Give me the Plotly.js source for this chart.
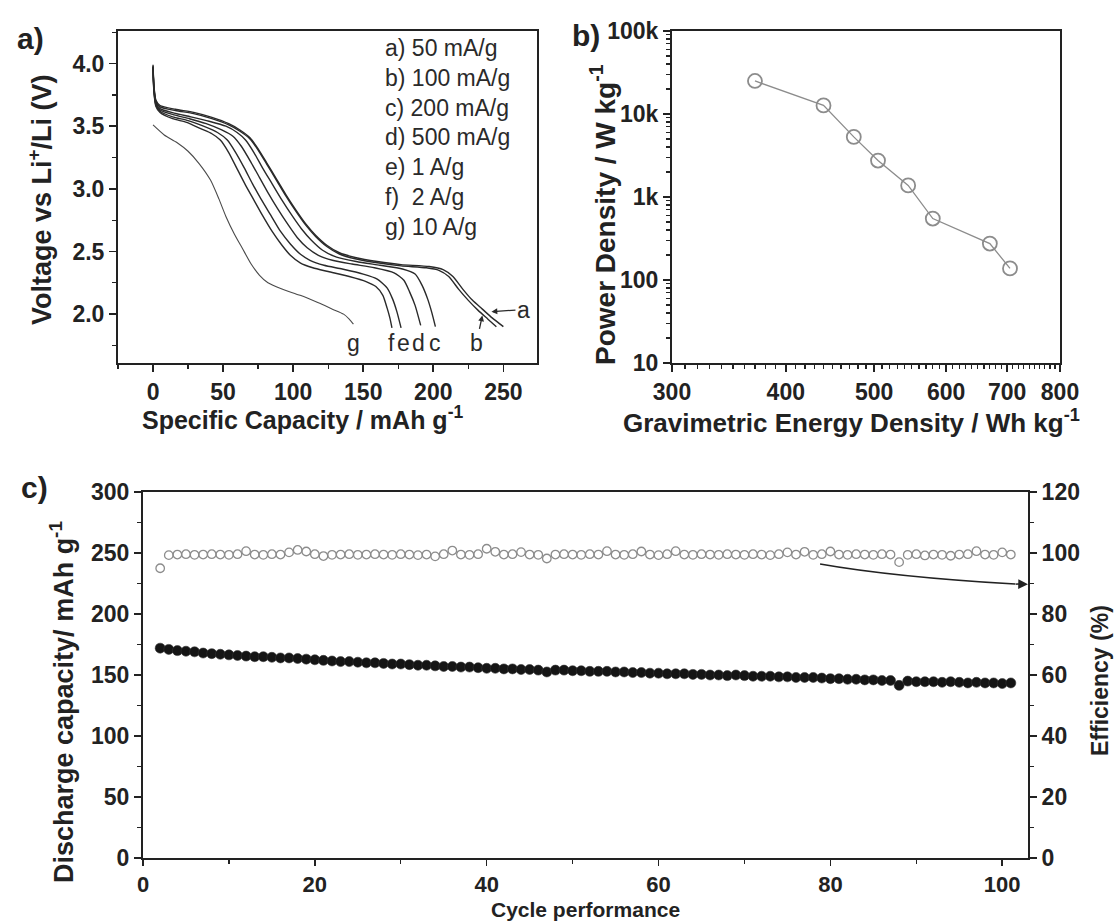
<!DOCTYPE html>
<html>
<head>
<meta charset="utf-8">
<script src="https://cdn.plot.ly/plotly-3.0.1.min.js"></script>
<style>html,body{margin:0;padding:0;background:#fff;}#chart{width:1118px;height:922px;}</style>
</head>
<body>
<div id="chart"></div>
<script>
// ---------- Panel a: discharge curves (capacity mAh/g, voltage V) ----------
const rateLabels = ['a) 50 mA/g','b) 100 mA/g','c) 200 mA/g','d) 500 mA/g','e) 1 A/g','f)\u00a0 2 A/g','g) 10 A/g'];

const capA = [0,0.6,2,5,16,29,42,54,62,69,75,81,88,95,102,109,116,124,133,145,160,177,197,207,214,221,228,235,242,250];
const voltA = [3.99,3.83,3.71,3.665,3.635,3.61,3.57,3.52,3.47,3.41,3.32,3.21,3.08,2.95,2.83,2.72,2.63,2.55,2.49,2.45,2.42,2.395,2.38,2.355,2.30,2.20,2.11,2.04,1.97,1.90];

const capB = [0,0.6,2,5,16,29,42,54,62,69,75,81,88,95,102,109,116,124,133,145,160,177,195,204,211,218,225,232,239,245];
const voltB = [3.98,3.82,3.70,3.655,3.625,3.60,3.56,3.51,3.46,3.40,3.31,3.20,3.07,2.94,2.82,2.71,2.62,2.54,2.48,2.44,2.41,2.385,2.37,2.35,2.30,2.20,2.11,2.03,1.96,1.90];

const capC = [0,0.6,2,5,15,27,40,52,60,66,72,78,85,92,99,106,113,121,131,145,162,178,187,192,196,199,201.5];
const voltC = [3.97,3.81,3.69,3.64,3.605,3.575,3.54,3.50,3.45,3.39,3.29,3.17,3.04,2.91,2.79,2.68,2.59,2.51,2.455,2.42,2.39,2.36,2.32,2.23,2.12,2.01,1.90];

const capD = [0,0.6,2,5,15,26,38,49,57,63,70,76,82,89,96,103,110,118,128,142,158,172,179,183,187,191];
const voltD = [3.97,3.80,3.68,3.63,3.59,3.56,3.52,3.47,3.42,3.34,3.21,3.09,2.97,2.84,2.72,2.61,2.53,2.47,2.43,2.40,2.37,2.33,2.27,2.18,2.07,1.91];

const capE = [0,0.6,2,5,14,25,36,46,53,59,65,71,77,84,91,98,105,112,122,135,150,160,167,171,174,177];
const voltE = [3.97,3.79,3.67,3.62,3.575,3.545,3.50,3.45,3.39,3.29,3.17,3.04,2.92,2.79,2.66,2.56,2.48,2.43,2.39,2.36,2.32,2.28,2.21,2.12,2.02,1.89];

const capF = [0,0.6,2,5,14,24,34,42,48,54,60,66,72,78,85,92,98,105,114,125,140,152,159,164,167,169,170.5];
const voltF = [3.97,3.78,3.66,3.61,3.56,3.53,3.48,3.44,3.39,3.29,3.16,3.03,2.91,2.79,2.66,2.55,2.47,2.41,2.37,2.34,2.30,2.26,2.22,2.15,2.05,1.97,1.89];

const capG = [0,8,17,25,33,41,47,52,58,64,70,76,82,92,105,118,128,136,140,143];
const voltG = [3.51,3.43,3.37,3.30,3.20,3.07,2.92,2.78,2.64,2.52,2.40,2.31,2.25,2.20,2.15,2.09,2.04,2.00,1.96,1.92];

// ---------- Panel b: Ragone plot ----------
const energyDensity = [370, 440, 475, 505, 545, 580, 670, 705];      // Wh/kg
const powerDensity  = [25000, 12700, 5300, 2750, 1380, 550, 275, 138]; // W/kg
const powerTickVals = [10, 100, 1000, 10000, 100000];
const powerTickText = ['10', '100', '1k', '10k', '100k'];
const energyTickVals = [300, 400, 500, 600, 700, 800];

// ---------- Panel c: cycling ----------
const cycles = [];
for (let i = 2; i <= 101; i++) cycles.push(i);
const dischargeCapacity = [
 172,171,170,169.5,169,168,167.5,167,166.5,166,
 165.5,165,165,164.5,164,164,163.5,163,162.5,162,
 161.5,161,161,160.5,160,160,159.5,159,159,158.5,
 158,158,157.5,157,157,156.5,156.5,156,155.5,155.5,
 155,155,154.5,154.5,154,152.5,154,154,153.5,153.5,
 153,153,153,152.5,152.5,152,152,151.5,151.5,151,
 151,151,150.5,150.5,150,150,149.5,150,149.5,149,
 149,149,148.5,148.5,148,148,148,147.5,147,147,
 146.5,146.5,146,146,145.5,145.5,141.5,145,144.5,144.5,
 144.5,144,144.5,144,143.5,144,143.5,143.5,143,143.5
];
const efficiency = [
 95.0,
 99.3,99.5,99.6,99.4,99.5,99.6,99.5,99.4,99.6,100.6,
 99.5,99.4,99.6,99.5,100.2,101.0,100.5,99.6,99.0,99.4,
 99.5,99.6,99.4,99.5,99.6,99.5,99.4,99.6,99.5,99.3,
 99.5,98.9,99.6,100.8,99.5,99.4,99.6,101.4,100.4,99.5,
 99.6,100.3,99.5,99.4,98.2,99.5,99.6,99.5,99.4,99.6,
 99.5,100.6,99.5,99.4,99.6,100.5,99.5,99.3,99.6,100.6,
 99.5,99.4,99.6,99.5,99.4,99.6,99.5,99.4,99.6,99.5,
 99.3,99.6,100.2,99.5,100.4,99.4,99.6,100.5,99.5,99.4,
 99.6,99.5,99.4,99.6,99.5,97.0,99.4,99.6,99.2,99.5,
 99.4,99.1,99.5,99.6,100.6,99.5,99.4,100.2,99.5
];

// ---------- build ----------
const W = 1118, H = 922;
const px = v => v / W;
const py = v => 1 - v / H;
const INK = '#222';
const FONT = 'Liberation Sans, Arial, Helvetica, sans-serif';

const curveLine = (x, y, c, w) => ({x, y, xaxis:'x', yaxis:'y', type:'scatter', mode:'lines',
  line:{color:c, width:w, shape:'spline', smoothing:0.6}, hoverinfo:'skip'});

const traces = [
  curveLine(capA, voltA, '#2a2a2a', 1.4),
  curveLine(capB, voltB, '#2a2a2a', 1.4),
  curveLine(capC, voltC, '#2a2a2a', 1.4),
  curveLine(capD, voltD, '#2a2a2a', 1.4),
  curveLine(capE, voltE, '#2a2a2a', 1.4),
  curveLine(capF, voltF, '#2a2a2a', 1.4),
  curveLine(capG, voltG, '#4a4a4a', 1.1),
  {x: energyDensity, y: powerDensity, xaxis:'x2', yaxis:'y2', type:'scatter', mode:'lines+markers',
   line:{color:'#8c8c8c', width:1.3},
   marker:{symbol:'circle-open', size:14, color:'#8c8c8c', line:{width:1.8, color:'#8c8c8c'}}},
  {x: cycles, y: dischargeCapacity, xaxis:'x3', yaxis:'y3', type:'scatter', mode:'markers',
   marker:{symbol:'circle', size:10, color:'#151515', line:{width:0.6, color:'#333'}}},
  {x: cycles, y: efficiency, xaxis:'x3', yaxis:'y4', type:'scatter', mode:'markers',
   marker:{symbol:'circle-open', size:8.5, color:'#8c8c8c', line:{width:1.3, color:'#8c8c8c'}}}
];

const tickFont = {family: FONT, size: 23, color: INK, weight: 'bold'};
const axisBase = {showgrid:false, zeroline:false, showline:true, linecolor:INK, linewidth:2,
  ticks:'outside', ticklen:7, tickwidth:1.6, tickcolor:INK, tickfont: tickFont};

const ann = [];
function label(text, x, y, size, angle) {
  const a = {xref:'paper', yref:'paper', x:px(x), y:py(y), text:text, showarrow:false,
    xanchor:'center', yanchor:'middle', font:{family:FONT, size:size, color:INK, weight:'bold'}};
  if (angle) a.textangle = angle;
  ann.push(a);
}
// panel letters
label('a)', 30, 38, 30);
label('b)', 586, 36, 30);
label('c)', 34, 487, 30);
// axis titles
label('Voltage vs Li<sup>+</sup>/Li (V)', 40, 200, 27, -90);
label('Specific Capacity / mAh g<sup>-1</sup>', 302, 418, 25);
label('Power Density / W kg<sup>-1</sup>', 603, 215, 28, -90);
label('Gravimetric Energy Density / Wh kg<sup>-1</sup>', 851, 421, 26);
label('Discharge capacity/ mAh g<sup>-1</sup>', 62, 702, 27, -90);
label('Efficiency (%)', 1100, 681, 23, -90);
label('Cycle performance', 585, 909, 21);

// rate legend (text only)
rateLabels.forEach((t, i) => {
  ann.push({xref:'paper', yref:'paper', x:px(383), y:py(48 + i * 29.8), text:t, showarrow:false,
    xanchor:'left', yanchor:'middle', font:{family:FONT, size:23, color:'#2a2a2a'}});
});

// curve end letters
const endLetters = ['g','f','e','d','c'];
const endLetterX = [143, 170.5, 178.8, 189.5, 201.4];
endLetters.forEach((t, i) => {
  ann.push({xref:'x', yref:'y', x:endLetterX[i], y:1.77, text:t, showarrow:false,
    xanchor:'center', yanchor:'middle', font:{family:FONT, size:23, color:'#2a2a2a'}});
});
ann.push({xref:'x', yref:'y', x:235, y:1.99, text:'b', showarrow:true, arrowhead:2, arrowsize:0.9,
  arrowwidth:1.3, arrowcolor:'#2a2a2a', ax:-6, ay:28, standoff:0,
  font:{family:FONT, size:23, color:'#2a2a2a'}});
ann.push({xref:'x', yref:'y', x:241.5, y:2.02, text:'a', showarrow:true, arrowhead:2, arrowsize:0.9,
  arrowwidth:1.3, arrowcolor:'#2a2a2a', ax:32, ay:-2, standoff:0,
  font:{family:FONT, size:23, color:'#2a2a2a'}});
// arrow head in panel c pointing to efficiency axis
ann.push({xref:'x3', yref:'y3', x:103, y:224.3, text:'', showarrow:true, arrowhead:2, arrowsize:1.3,
  arrowwidth:1.5, arrowcolor:'#222', ax:-14, ay:-0.3, standoff:0});

const shapes = [
  {type:'path', xref:'x3', yref:'y3', path:'M 78.8 241 Q 87.2 230.5 101.5 224.5',
   line:{color:'#222', width:1.5}}
];

const minorEnergy = [];
for (let v = 310; v < 800; v += 10) if (v % 100 !== 0) minorEnergy.push(v);
const minorPower = [];
[10, 100, 1000, 10000].forEach(d => { for (let k = 2; k <= 9; k++) minorPower.push(k * d); });

const layout = {
  width: W, height: H, margin:{l:0, r:0, t:0, b:0},
  paper_bgcolor:'#fff', plot_bgcolor:'#fff', showlegend:false,
  font:{family:FONT, color:INK},
  xaxis: Object.assign({}, axisBase, {domain:[px(118), px(537)], anchor:'y', range:[-25, 274],
    tickvals:[0,50,100,150,200,250], mirror:true,
    minor:{tickmode:'linear', tick0:0, dtick:25, ticks:'outside', ticklen:4, tickwidth:1.3, tickcolor:INK}}),
  yaxis: Object.assign({}, axisBase, {domain:[py(363), py(31)], anchor:'x', range:[1.61, 4.26],
    tickvals:[2.0,2.5,3.0,3.5,4.0], tickformat:'.1f', mirror:true,
    minor:{tickmode:'linear', tick0:0, dtick:0.25, ticks:'outside', ticklen:4, tickwidth:1.3, tickcolor:INK}}),
  xaxis2: Object.assign({}, axisBase, {domain:[px(672), px(1060)], anchor:'y2', type:'log',
    range:[Math.log10(300), Math.log10(800)], tickmode:'array', tickvals:energyTickVals,
    ticktext:energyTickVals.map(String), mirror:true,
    minor:{tickmode:'array', tickvals:minorEnergy, ticks:'outside', ticklen:4, tickwidth:1.2, tickcolor:INK}}),
  yaxis2: Object.assign({}, axisBase, {domain:[py(363), py(31)], anchor:'x2', type:'log',
    range:[1, 5], tickmode:'array', tickvals:powerTickVals, ticktext:powerTickText, mirror:true,
    minor:{tickmode:'array', tickvals:minorPower, ticks:'outside', ticklen:4, tickwidth:1.2, tickcolor:INK}}),
  xaxis3: Object.assign({}, axisBase, {domain:[px(143), px(1028)], anchor:'y3', range:[0, 103],
    tickvals:[0,20,40,60,80,100], mirror:true, ticklen:6,
    tickfont:{family:FONT, size:22, color:INK, weight:'bold'},
    minor:{tickmode:'linear', tick0:0, dtick:10, ticks:'outside', ticklen:4, tickwidth:1.3, tickcolor:INK}}),
  yaxis3: Object.assign({}, axisBase, {domain:[py(858), py(492)], anchor:'x3', range:[0, 300],
    tickvals:[0,50,100,150,200,250,300],
    minor:{tickmode:'linear', tick0:0, dtick:25, ticks:'outside', ticklen:4, tickwidth:1.3, tickcolor:INK}}),
  yaxis4: Object.assign({}, axisBase, {overlaying:'y3', side:'right', anchor:'x3', range:[0, 120],
    tickvals:[0,20,40,60,80,100,120],
    minor:{tickmode:'linear', tick0:0, dtick:10, ticks:'outside', ticklen:4, tickwidth:1.3, tickcolor:INK}}),
  annotations: ann,
  shapes: shapes
};

Plotly.newPlot('chart', traces, layout, {staticPlot:true, displayModeBar:false});
</script>
</body>
</html>
